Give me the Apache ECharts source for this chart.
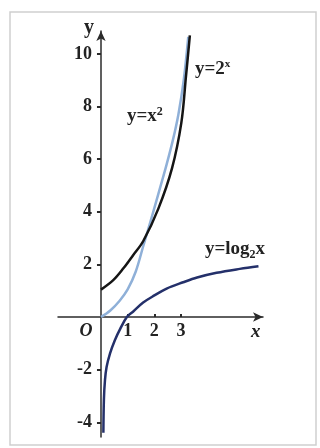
<!DOCTYPE html>
<html>
<head>
<meta charset="utf-8">
<script src="https://cdn.jsdelivr.net/npm/echarts@6/dist/echarts.min.js"></script>
<style>
  html, body { margin: 0; padding: 0; background: #ffffff; }
  #chart { width: 320px; height: 448px; }
</style>
</head>
<body>
<div id="chart"></div>
<script>
// Tick positions shown on the two axes
const xTicks = [1, 2, 3];
const yTicks = [-4, -2, 2, 4, 6, 8, 10];

// y = 2^x
const expX = [0, 0.46, 0.84, 1.21, 1.58, 2.15, 2.66, 3.01, 3.18, 3.33];
const expY = [1.04, 1.4, 1.85, 2.36, 2.88, 4.12, 5.65, 7.38, 9.1, 10.7];

// y = x^2
const sqX = [0, 0.35, 0.7, 1.0, 1.3, 1.58, 1.84, 2.15, 2.46, 2.7, 2.9, 3.1, 3.27];
const sqY = [0, 0.25, 0.62, 1.05, 1.72, 2.68, 3.58, 4.68, 5.8, 6.75, 7.7, 9.0, 10.65];

// y = log2 x
const logX = [0.09, 0.11, 0.15, 0.21, 0.34, 0.52, 0.72, 0.97, 1.2, 1.58, 2.0, 2.46, 3.08, 3.6, 4.33, 5.2, 5.9];
const logY = [-4.4, -3.13, -2.4, -1.9, -1.38, -0.88, -0.45, 0, 0.2, 0.55, 0.82, 1.08, 1.32, 1.5, 1.68, 1.83, 1.93];

// Axis extents
const xMin = -1.61, xMax = 6.07;
const yMin = -4.56, yMax = 10.87;

const SERIF = '"Liberation Serif", "DejaVu Serif", serif';
const INK = '#222222';
const AXIS = '#2b2b2b';

const W = 320, H = 448;
const G = { left: 58, right: 57, top: 31, bottom: 11 };

// Shift both axes from the grid edges onto the zero lines (ticks and labels move with them)
const zeroPx = G.left + (0 - xMin) / (xMax - xMin) * (W - G.left - G.right);
const zeroPy = G.top + (yMax - 0) / (yMax - yMin) * (H - G.top - G.bottom);
const yAxisOffset = -(zeroPx - G.left);
const xAxisOffset = -((H - G.bottom) - zeroPy);

const pairs = (xs, ys) => xs.map((x, i) => [x, ys[i]]);

const chart = echarts.init(document.getElementById('chart'), null, { renderer: 'canvas' });

chart.setOption({
  animation: false,
  backgroundColor: '#ffffff',
  grid: { left: G.left, right: G.right, top: G.top, bottom: G.bottom, containLabel: false },
  xAxis: {
    type: 'value',
    position: 'bottom',
    offset: xAxisOffset,
    min: xMin,
    max: xMax,
    splitLine: { show: false },
    axisLine: {
      onZero: false,
      symbol: ['none', 'arrow'],
      symbolSize: [7, 10],
      lineStyle: { color: AXIS, width: 1.5 }
    },
    axisTick: {
      customValues: xTicks,
      inside: true,
      length: 3,
      lineStyle: { color: AXIS, width: 2 }
    },
    axisLabel: {
      customValues: [0].concat(xTicks),
      margin: 5,
      color: INK,
      fontFamily: SERIF,
      fontWeight: 'bold',
      fontSize: 18,
      formatter: v => (v === 0 ? '{o|O}' : String(v)),
      rich: {
        o: { fontFamily: SERIF, fontStyle: 'italic', fontWeight: 'bold', fontSize: 18, color: INK, padding: [0, 30, 0, 0] }
      }
    },
    name: 'x',
    nameLocation: 'end',
    nameGap: -12,
    nameTextStyle: {
      fontFamily: SERIF, fontStyle: 'italic', fontWeight: 'bold', fontSize: 19, color: INK,
      align: 'left', verticalAlign: 'top', padding: [6, 0, 0, 0]
    }
  },
  yAxis: {
    type: 'value',
    position: 'left',
    offset: yAxisOffset,
    min: yMin,
    max: yMax,
    splitLine: { show: false },
    axisLine: {
      onZero: false,
      symbol: ['none', 'arrow'],
      symbolSize: [7, 10],
      lineStyle: { color: AXIS, width: 1.5 }
    },
    axisTick: {
      customValues: yTicks,
      inside: false,
      length: 4,
      lineStyle: { color: AXIS, width: 2 }
    },
    axisLabel: {
      customValues: yTicks,
      margin: 9,
      color: INK,
      fontFamily: SERIF,
      fontWeight: 'bold',
      fontSize: 18,
      formatter: v => String(v)
    },
    name: 'y',
    nameLocation: 'end',
    nameGap: 3,
    nameTextStyle: {
      fontFamily: SERIF, fontWeight: 'bold', fontSize: 20, color: INK,
      align: 'right', verticalAlign: 'middle', padding: [0, 7, 0, 0]
    }
  },
  series: [
    {
      name: 'y=x^2',
      type: 'line',
      data: pairs(sqX, sqY),
      smooth: 0.35,
      showSymbol: false,
      lineStyle: { color: '#8fb0d8', width: 2.5 },
      z: 3
    },
    {
      name: 'y=2^x',
      type: 'line',
      data: pairs(expX, expY),
      smooth: 0.35,
      showSymbol: false,
      lineStyle: { color: '#151515', width: 2.5 },
      z: 4
    },
    {
      name: 'y=log2x',
      type: 'line',
      data: pairs(logX, logY),
      smooth: 0.35,
      showSymbol: false,
      lineStyle: { color: '#24306a', width: 2.5 },
      z: 4
    }
  ],
  graphic: [
    {
      type: 'rect',
      shape: { x: 10, y: 12, width: 306, height: 433 },
      style: { fill: 'none', stroke: '#cfcfcf', lineWidth: 1.5 },
      silent: true,
      z: -1
    },
    {
      type: 'text',
      left: 195, top: 59,
      style: {
        text: 'y=2{s|x}',
        font: 'bold 19px ' + SERIF,
        fill: INK,
        rich: { s: { fontSize: 11, fontWeight: 'bold', fontFamily: SERIF, fill: INK, verticalAlign: 'top', lineHeight: 21 } }
      }
    },
    {
      type: 'text',
      left: 127, top: 106,
      style: {
        text: 'y=x{s|2}',
        font: 'bold 19px ' + SERIF,
        fill: INK,
        rich: { s: { fontSize: 12, fontWeight: 'bold', fontFamily: SERIF, fill: INK, verticalAlign: 'top', lineHeight: 21 } }
      }
    },
    {
      type: 'text',
      left: 205, top: 240,
      style: {
        text: 'y=log{b|2}x',
        font: 'bold 19px ' + SERIF,
        fill: INK,
        rich: { b: { fontSize: 12, fontWeight: 'bold', fontFamily: SERIF, fill: INK, verticalAlign: 'bottom', lineHeight: 23 } }
      }
    }
  ]
});
</script>
</body>
</html>
